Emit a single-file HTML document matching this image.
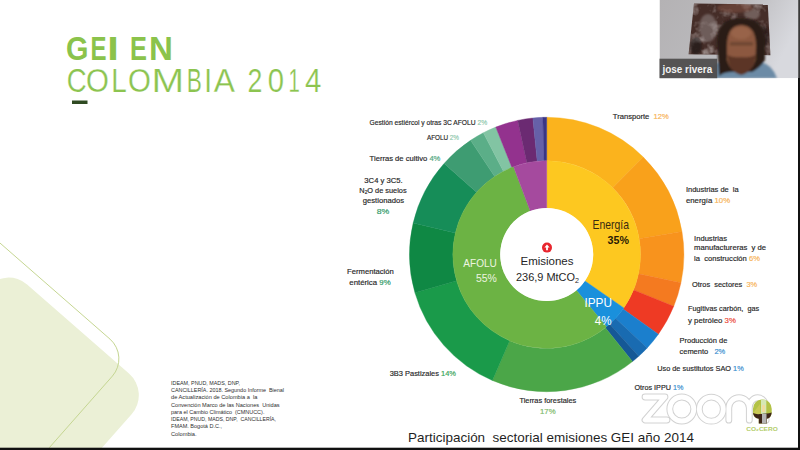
<!DOCTYPE html>
<html><head><meta charset="utf-8"><style>
html,body{margin:0;padding:0;background:#fff;}
body{width:800px;height:450px;overflow:hidden;position:relative;}
svg{position:absolute;left:0;top:0;font-family:"Liberation Sans", sans-serif;}
text{white-space:pre;}
</style></head><body>
<svg width="800" height="450" viewBox="0 0 800 450">
<rect x="0" y="0" width="800" height="450" fill="#ffffff"/>
<!-- decorative bottom-left -->
<path d="M-12.5,287.2 A28,28 0 0 1 27.1,284.6 L129,373.4 A29,29 0 0 1 131.6,414.3 L100,450 L-50,450 L-50,350 Z" fill="#ebf0d6"/>
<path d="M-2,241.3 L110,339.1 A26.3,26.3 0 0 1 112.4,376.1 L49.3,447.7" fill="none" stroke="#c5d692" stroke-width="1"/>
<!-- title -->
<text transform="translate(66.06,60.4) scale(0.884,1)" font-size="32.7" font-weight="bold" fill="#8bc34b" >G</text>
<text transform="translate(90.39,60.4) scale(0.736,1)" font-size="32.7" font-weight="bold" fill="#8bc34b" >E</text>
<text transform="translate(107.21,60.4) scale(1.274,1)" font-size="32.7" font-weight="bold" fill="#8bc34b" >I</text>
<text transform="translate(130.05,60.4) scale(0.777,1)" font-size="32.7" font-weight="bold" fill="#8bc34b" >E</text>
<text transform="translate(149.03,60.4) scale(1.014,1)" font-size="32.7" font-weight="bold" fill="#8bc34b" >N</text>
<text transform="translate(66.70,91.9) scale(0.837,1)" font-size="33" font-weight="normal" fill="#8cc450" stroke="#ffffff" stroke-width="0.25">C</text>
<text transform="translate(86.01,91.9) scale(0.892,1)" font-size="33" font-weight="normal" fill="#8cc450" stroke="#ffffff" stroke-width="0.25">O</text>
<text transform="translate(111.31,91.9) scale(0.845,1)" font-size="33" font-weight="normal" fill="#8cc450" stroke="#ffffff" stroke-width="0.25">L</text>
<text transform="translate(128.01,91.9) scale(0.892,1)" font-size="33" font-weight="normal" fill="#8cc450" stroke="#ffffff" stroke-width="0.25">O</text>
<text transform="translate(151.59,91.9) scale(1.187,1)" font-size="33" font-weight="normal" fill="#8cc450" stroke="#ffffff" stroke-width="0.25">M</text>
<text transform="translate(186.84,91.9) scale(0.686,1)" font-size="33" font-weight="normal" fill="#8cc450" stroke="#ffffff" stroke-width="0.25">B</text>
<text transform="translate(204.33,91.9) scale(0.845,1)" font-size="33" font-weight="normal" fill="#8cc450" stroke="#ffffff" stroke-width="0.25">I</text>
<text transform="translate(213.84,91.9) scale(0.960,1)" font-size="33" font-weight="normal" fill="#8cc450" stroke="#ffffff" stroke-width="0.25">A</text>
<text transform="translate(247.55,91.9) scale(0.812,1)" font-size="33" font-weight="normal" fill="#8cc450" stroke="#ffffff" stroke-width="0.25">2</text>
<text transform="translate(267.86,91.9) scale(0.887,1)" font-size="33" font-weight="normal" fill="#8cc450" stroke="#ffffff" stroke-width="0.25">0</text>
<text transform="translate(288.45,91.9) scale(0.615,1)" font-size="33" font-weight="normal" fill="#8cc450" stroke="#ffffff" stroke-width="0.25">1</text>
<text transform="translate(305.07,91.9) scale(0.893,1)" font-size="33" font-weight="normal" fill="#8cc450" stroke="#ffffff" stroke-width="0.25">4</text>
<rect x="72" y="100.5" width="15.5" height="3.5" fill="#2f4a22"/>
<!-- donut -->
<path d="M546.70,117.30A137.2,137.2 0 0 1 643.21,156.98L612.68,187.83A93.8,93.8 0 0 0 546.70,160.70Z" fill="#fbb31d" stroke="#fbb31d" stroke-width="0.4"/>
<path d="M643.21,156.98A137.2,137.2 0 0 1 681.94,231.38L639.16,238.70A93.8,93.8 0 0 0 612.68,187.83Z" fill="#f9a11b" stroke="#f9a11b" stroke-width="0.4"/>
<path d="M681.94,231.38A137.2,137.2 0 0 1 680.95,282.79L638.48,273.84A93.8,93.8 0 0 0 639.16,238.70Z" fill="#f8931d" stroke="#f8931d" stroke-width="0.4"/>
<path d="M680.95,282.79A137.2,137.2 0 0 1 673.73,306.34L633.55,289.94A93.8,93.8 0 0 0 638.48,273.84Z" fill="#f47a20" stroke="#f47a20" stroke-width="0.4"/>
<path d="M673.73,306.34A137.2,137.2 0 0 1 658.40,334.17L623.06,308.97A93.8,93.8 0 0 0 633.55,289.94Z" fill="#ee3a24" stroke="#ee3a24" stroke-width="0.4"/>
<path d="M658.40,334.17A137.2,137.2 0 0 1 647.20,347.89L615.41,318.35A93.8,93.8 0 0 0 623.06,308.97Z" fill="#1b7fcd" stroke="#1b7fcd" stroke-width="0.4"/>
<path d="M647.20,347.89A137.2,137.2 0 0 1 638.68,356.30L609.59,324.10A93.8,93.8 0 0 0 615.41,318.35Z" fill="#196bb1" stroke="#196bb1" stroke-width="0.4"/>
<path d="M638.68,356.30A137.2,137.2 0 0 1 632.48,361.58L605.35,327.70A93.8,93.8 0 0 0 609.59,324.10Z" fill="#155896" stroke="#155896" stroke-width="0.4"/>
<path d="M632.48,361.58A137.2,137.2 0 0 1 492.43,380.51L509.60,340.65A93.8,93.8 0 0 0 605.35,327.70Z" fill="#4ba648" stroke="#4ba648" stroke-width="0.4"/>
<path d="M492.43,380.51A137.2,137.2 0 0 1 414.95,292.78L456.62,280.67A93.8,93.8 0 0 0 509.60,340.65Z" fill="#1a9a4a" stroke="#1a9a4a" stroke-width="0.4"/>
<path d="M414.95,292.78A137.2,137.2 0 0 1 413.18,222.94L455.42,232.92A93.8,93.8 0 0 0 456.62,280.67Z" fill="#0f8844" stroke="#0f8844" stroke-width="0.4"/>
<path d="M413.18,222.94A137.2,137.2 0 0 1 444.10,163.41L476.56,192.22A93.8,93.8 0 0 0 455.42,232.92Z" fill="#168d58" stroke="#168d58" stroke-width="0.4"/>
<path d="M444.10,163.41A137.2,137.2 0 0 1 470.58,140.36L494.66,176.46A93.8,93.8 0 0 0 476.56,192.22Z" fill="#3e9c72" stroke="#3e9c72" stroke-width="0.4"/>
<path d="M470.58,140.36A137.2,137.2 0 0 1 483.35,132.80L503.39,171.30A93.8,93.8 0 0 0 494.66,176.46Z" fill="#5bae88" stroke="#5bae88" stroke-width="0.4"/>
<path d="M483.35,132.80A137.2,137.2 0 0 1 495.75,127.11L511.87,167.41A93.8,93.8 0 0 0 503.39,171.30Z" fill="#82c4a3" stroke="#82c4a3" stroke-width="0.4"/>
<path d="M495.75,127.11A137.2,137.2 0 0 1 517.71,120.40L526.88,162.82A93.8,93.8 0 0 0 511.87,167.41Z" fill="#93328e" stroke="#93328e" stroke-width="0.4"/>
<path d="M517.71,120.40A137.2,137.2 0 0 1 532.84,118.00L537.22,161.18A93.8,93.8 0 0 0 526.88,162.82Z" fill="#6b2a72" stroke="#6b2a72" stroke-width="0.4"/>
<path d="M532.84,118.00A137.2,137.2 0 0 1 542.87,117.35L544.08,160.74A93.8,93.8 0 0 0 537.22,161.18Z" fill="#6660a8" stroke="#6660a8" stroke-width="0.4"/>
<path d="M542.87,117.35A137.2,137.2 0 0 1 546.70,117.30L546.70,160.70A93.8,93.8 0 0 0 544.08,160.74Z" fill="#3b3585" stroke="#3b3585" stroke-width="0.4"/>
<path d="M546.70,160.70A93.8,93.8 0 0 1 623.82,307.90L584.93,280.97A46.5,46.5 0 0 0 546.70,208.00Z" fill="#fdc820" stroke="#fdc820" stroke-width="0.4"/>
<path d="M623.82,307.90A93.8,93.8 0 0 1 606.49,326.77L576.34,290.33A46.5,46.5 0 0 0 584.93,280.97Z" fill="#1a90dc" stroke="#1a90dc" stroke-width="0.4"/>
<path d="M606.49,326.77A93.8,93.8 0 1 1 513.54,166.76L530.26,211.00A46.5,46.5 0 1 0 576.34,290.33Z" fill="#6cb344" stroke="#6cb344" stroke-width="0.4"/>
<path d="M513.54,166.76A93.8,93.8 0 0 1 546.70,160.70L546.70,208.00A46.5,46.5 0 0 0 530.26,211.00Z" fill="#a54a9e" stroke="#a54a9e" stroke-width="0.4"/>
<circle cx="546.7" cy="254.5" r="46.5" fill="#ffffff"/>
<circle cx="547" cy="247.6" r="5" fill="#e8262e"/>
<path d="M547,244.6 L544.4,247.6 L546.1,247.6 L546.1,250.3 L547.9,250.3 L547.9,247.6 L549.6,247.6 Z" fill="#fff"/>
<text x="547" y="264.5" font-size="11.5" fill="#262626" text-anchor="middle">Emisiones</text>
<text x="516" y="281.3" font-size="11.5" fill="#262626" textLength="63" lengthAdjust="spacingAndGlyphs">236,9 MtCO<tspan font-size="7.5" dy="2">2</tspan></text>
<text x="592.6" y="229.3" font-size="12.2" fill="#3a2a10" textLength="36.4" lengthAdjust="spacingAndGlyphs">Energía</text>
<text x="607.6" y="244.4" font-size="11.5" font-weight="bold" fill="#2a1a05" textLength="21.4" lengthAdjust="spacingAndGlyphs">35%</text>
<text x="584.4" y="306.5" font-size="12.6" fill="#ffffff" textLength="27.6" lengthAdjust="spacingAndGlyphs">IPPU</text>
<text x="594.8" y="324.5" font-size="12.6" fill="#ffffff" textLength="16.8" lengthAdjust="spacingAndGlyphs">4%</text>
<text x="463.3" y="267" font-size="10.8" fill="#eef5e0" textLength="33.6" lengthAdjust="spacingAndGlyphs">AFOLU</text>
<text x="476" y="282.4" font-size="10.8" fill="#eef5e0" textLength="20.9" lengthAdjust="spacingAndGlyphs">55%</text>
<!-- labels -->
<text x="369.6" y="125.4" font-size="7.8" fill="#282828" stroke="#282828" stroke-width="0.18" text-anchor="start" textLength="117.6" lengthAdjust="spacingAndGlyphs">Gestión estiércol y otras 3C AFOLU <tspan fill="#8fc9ad" stroke="#8fc9ad">2%</tspan></text>
<text x="427" y="139.5" font-size="7.8" fill="#282828" stroke="#282828" stroke-width="0.18" text-anchor="start" textLength="32" lengthAdjust="spacingAndGlyphs">AFOLU <tspan fill="#8fc9ad" stroke="#8fc9ad">2%</tspan></text>
<text x="369.6" y="160.7" font-size="7.8" fill="#282828" stroke="#282828" stroke-width="0.18" text-anchor="start" textLength="70.8" lengthAdjust="spacingAndGlyphs">Tierras de cultivo <tspan fill="#4fa67e" stroke="#4fa67e">4%</tspan></text>
<text x="383.5" y="183" font-size="7.8" fill="#282828" stroke="#282828" stroke-width="0.18" text-anchor="middle" textLength="38.3" lengthAdjust="spacingAndGlyphs">3C4 y 3C5.</text>
<text x="383" y="192.8" font-size="7.8" fill="#282828" stroke="#282828" stroke-width="0.18" text-anchor="middle" textLength="47.3" lengthAdjust="spacingAndGlyphs">N<tspan font-size="5" dy="1.5">2</tspan><tspan dy="-1.5">O de suelos</tspan></text>
<text x="383.4" y="203.4" font-size="7.8" fill="#282828" stroke="#282828" stroke-width="0.18" text-anchor="middle" textLength="41.3" lengthAdjust="spacingAndGlyphs">gestionados</text>
<text x="383" y="213.6" font-size="7.8" fill="#2f9a68" stroke="#2f9a68" stroke-width="0.18" text-anchor="middle" textLength="12.5" lengthAdjust="spacingAndGlyphs">8%</text>
<text x="347.1" y="274.3" font-size="7.8" fill="#282828" stroke="#282828" stroke-width="0.18" text-anchor="start" textLength="46.7" lengthAdjust="spacingAndGlyphs">Fermentación</text>
<text x="349.3" y="284.8" font-size="7.8" fill="#282828" stroke="#282828" stroke-width="0.18" text-anchor="start" textLength="41.3" lengthAdjust="spacingAndGlyphs">entérica <tspan fill="#2f9a68" stroke="#2f9a68">9%</tspan></text>
<text x="389.7" y="376" font-size="7.8" fill="#282828" stroke="#282828" stroke-width="0.18" text-anchor="start" textLength="66.3" lengthAdjust="spacingAndGlyphs">3B3 Pastizales <tspan fill="#3aa55a" stroke="#3aa55a">14%</tspan></text>
<text x="519.4" y="402.5" font-size="7.8" fill="#282828" stroke="#282828" stroke-width="0.18" text-anchor="start" textLength="56.9" lengthAdjust="spacingAndGlyphs">Tierras forestales</text>
<text x="547.8" y="413.8" font-size="7.8" fill="#7dba6a" stroke="#7dba6a" stroke-width="0.18" text-anchor="middle" textLength="15.6" lengthAdjust="spacingAndGlyphs">17%</text>
<text x="612.8" y="119.2" font-size="7.8" fill="#282828" stroke="#282828" stroke-width="0.18" text-anchor="start" textLength="56" lengthAdjust="spacingAndGlyphs">Transporte  <tspan fill="#f7b357" stroke="#f7b357">12%</tspan></text>
<text x="685.9" y="191.5" font-size="7.8" fill="#282828" stroke="#282828" stroke-width="0.18" text-anchor="start" textLength="52.8" lengthAdjust="spacingAndGlyphs">Industrias de  la</text>
<text x="685.9" y="202.7" font-size="7.8" fill="#282828" stroke="#282828" stroke-width="0.18" text-anchor="start" textLength="44.2" lengthAdjust="spacingAndGlyphs">energía <tspan fill="#f7b357" stroke="#f7b357">10%</tspan></text>
<text x="694.1" y="240.8" font-size="7.8" fill="#282828" stroke="#282828" stroke-width="0.18" text-anchor="start" textLength="32.9" lengthAdjust="spacingAndGlyphs">Industrias</text>
<text x="694.1" y="250.1" font-size="7.8" fill="#282828" stroke="#282828" stroke-width="0.18" text-anchor="start" textLength="71.9" lengthAdjust="spacingAndGlyphs">manufactureras  y de</text>
<text x="694.1" y="260.5" font-size="7.8" fill="#282828" stroke="#282828" stroke-width="0.18" text-anchor="start" textLength="65.8" lengthAdjust="spacingAndGlyphs">la  construcción <tspan fill="#f7b357" stroke="#f7b357">6%</tspan></text>
<text x="692" y="286.6" font-size="7.8" fill="#282828" stroke="#282828" stroke-width="0.18" text-anchor="start" textLength="65.2" lengthAdjust="spacingAndGlyphs">Otros  sectores  <tspan fill="#f7b357" stroke="#f7b357">3%</tspan></text>
<text x="688" y="311.4" font-size="7.8" fill="#282828" stroke="#282828" stroke-width="0.18" text-anchor="start" textLength="71.1" lengthAdjust="spacingAndGlyphs">Fugitivas carbón,  gas</text>
<text x="688" y="322.6" font-size="7.8" fill="#282828" stroke="#282828" stroke-width="0.18" text-anchor="start" textLength="47.9" lengthAdjust="spacingAndGlyphs">y petróleo <tspan fill="#ec4a3a" stroke="#ec4a3a">3%</tspan></text>
<text x="679.5" y="343.4" font-size="7.8" fill="#282828" stroke="#282828" stroke-width="0.18" text-anchor="start" textLength="47.8" lengthAdjust="spacingAndGlyphs">Producción de</text>
<text x="679.5" y="354" font-size="7.8" fill="#282828" stroke="#282828" stroke-width="0.18" text-anchor="start" textLength="45.7" lengthAdjust="spacingAndGlyphs">cemento   <tspan fill="#3a8fcf" stroke="#3a8fcf">2%</tspan></text>
<text x="657.2" y="371.4" font-size="7.8" fill="#282828" stroke="#282828" stroke-width="0.18" text-anchor="start" textLength="86.5" lengthAdjust="spacingAndGlyphs">Uso de sustitutos SAO <tspan fill="#3a8fcf" stroke="#3a8fcf">1%</tspan></text>
<text x="634.5" y="389.7" font-size="7.8" fill="#282828" stroke="#282828" stroke-width="0.18" text-anchor="start" textLength="48.8" lengthAdjust="spacingAndGlyphs">Otros IPPU <tspan fill="#3a8fcf" stroke="#3a8fcf">1%</tspan></text>
<!-- reference -->
<text x="171" y="385" font-size="6.0" fill="#2e2e2e" textLength="69" lengthAdjust="spacingAndGlyphs">IDEAM, PNUD, MADS, DNP,</text>
<text x="171" y="391.6" font-size="6.0" fill="#2e2e2e" textLength="113" lengthAdjust="spacingAndGlyphs">CANCILLERÍA. 2018. Segundo Informe  Bienal</text>
<text x="171" y="399" font-size="6.0" fill="#2e2e2e" textLength="86.4" lengthAdjust="spacingAndGlyphs">de Actualización de Colombia a  la</text>
<text x="171" y="406.6" font-size="6.0" fill="#2e2e2e" textLength="108.6" lengthAdjust="spacingAndGlyphs">Convención Marco de las Naciones  Unidas</text>
<text x="171" y="414" font-size="6.0" fill="#2e2e2e" textLength="93.4" lengthAdjust="spacingAndGlyphs">para el Cambio Climático  (CMNUCC).</text>
<text x="171" y="421" font-size="6.0" fill="#2e2e2e" textLength="105" lengthAdjust="spacingAndGlyphs">IDEAM, PNUD, MADS, DNP,  CANCILLERÍA,</text>
<text x="171" y="428" font-size="6.0" fill="#2e2e2e" textLength="51" lengthAdjust="spacingAndGlyphs">FMAM. Bogotá D.C.,</text>
<text x="171" y="436" font-size="6.0" fill="#2e2e2e" textLength="25.6" lengthAdjust="spacingAndGlyphs">Colombia.</text>
<!-- caption -->
<text x="408" y="441.6" font-size="12.8" fill="#1f1f1f" textLength="286" lengthAdjust="spacingAndGlyphs">Participación  sectorial emisiones GEI año 2014</text>
<!-- zoom watermark -->
<g fill="none" stroke-linejoin="round" stroke-linecap="round"><g stroke="#d2d2d2" stroke-width="6.8"><path d="M645,397 L665,397 L645,420 L667,420"/>
<circle cx="681.8" cy="409" r="12"/>
<circle cx="711.3" cy="409.2" r="12"/>
<path d="M728.8,420.2 L728.8,408 A10.25,10.25 0 0 1 749.3,408 L749.3,420.2 M749.3,408 A8.4,10.25 0 0 1 766.1,408 L766.1,420.2"/></g><g stroke="#ffffff" stroke-width="4.8"><path d="M645,397 L665,397 L645,420 L667,420"/>
<circle cx="681.8" cy="409" r="12"/>
<circle cx="711.3" cy="409.2" r="12"/>
<path d="M728.8,420.2 L728.8,408 A10.25,10.25 0 0 1 749.3,408 L749.3,420.2 M749.3,408 A8.4,10.25 0 0 1 766.1,408 L766.1,420.2"/></g></g>
<!-- logo -->
<g>
<path d="M753,410 A9.4,9.6 0 1 1 771.7,410 L771.7,413 Q771,418 766.8,418.5 L766.8,423.6 L758.8,423.6 L758.8,418.5 Q753.5,418 753,413 Z" fill="#b3c246"/>
<path d="M753.2,413 L760,404 L761,418 Q755,418 753.2,413Z" fill="#c9c955"/>
<path d="M761,399.2 Q764,399 766.3,400.5 L766.3,414 L761,414 Z" fill="#d6e8b4"/>
<path d="M762,405 L765,405 L765,412 L762,412Z" fill="#f0dca0"/>
<path d="M753,413 Q756,414.5 760,414 L766.8,413.5 Q769,413.5 771.7,412.5 Q771,418.5 766.8,418.8 L766.8,423.6 L758.8,423.6 L758.8,418.8 Q753.8,418 753,413Z" fill="#3e2618"/>
<rect x="762" y="414" width="4.5" height="9.6" fill="#b4b4b4"/>
</g>
<text x="762" y="431.2" font-size="5" font-weight="bold" fill="#b3cd6a" text-anchor="middle" textLength="31.6" lengthAdjust="spacingAndGlyphs">CO₂CERO</text>
<!-- video -->
<defs><clipPath id="vc"><rect x="659.5" y="0" width="138.7" height="78.2"/></clipPath>
<clipPath id="pc"><path d="M694,3.6 L767.8,4.5 L770.4,55.2 L688.6,54.3 Z"/></clipPath>
<filter id="bl" x="-20%" y="-20%" width="140%" height="140%"><feGaussianBlur stdDeviation="1.3"/></filter>
<filter id="bl2" x="-20%" y="-20%" width="140%" height="140%"><feGaussianBlur stdDeviation="0.5"/></filter>
<filter id="tex" x="0" y="0" width="100%" height="100%"><feTurbulence type="fractalNoise" baseFrequency="0.09" numOctaves="3" seed="3"/><feColorMatrix type="matrix" values="0 0 0 0 0.52  0 0 0 0 0.45  0 0 0 0 0.44  2.0 0 0 0 -0.95"/></filter>
<linearGradient id="wall" x1="0" y1="0" x2="1" y2="0.3"><stop offset="0" stop-color="#b4b2b4"/><stop offset="0.55" stop-color="#bbbabd"/><stop offset="1" stop-color="#d8d9de"/></linearGradient></defs>
<g clip-path="url(#vc)">
<rect x="659.5" y="0" width="140.5" height="78.2" fill="url(#wall)"/>
<g clip-path="url(#pc)">
<rect x="685" y="0" width="90" height="60" fill="#452d28"/>
<rect x="685" y="0" width="90" height="60" filter="url(#tex)"/>
<g filter="url(#bl)" opacity="0.6">
<ellipse cx="708" cy="28" rx="9" ry="14" fill="#8a7d7c"/>
<ellipse cx="752" cy="14" rx="8" ry="6" fill="#8f7f7c"/>
<ellipse cx="735" cy="8" rx="18" ry="5" fill="#7a4e40"/>
<ellipse cx="696" cy="46" rx="6" ry="9" fill="#1e1614"/>
<ellipse cx="764" cy="36" rx="5" ry="10" fill="#221816"/>
</g>
</g>
<g filter="url(#bl)">
<path d="M706,78.2 Q708,66 720,62 L760,62 Q772,64 777,78.2 Z" fill="#6c8ba6"/>
<path d="M719,76 L717,38 Q718,18 741,18 Q764,18 765,38 L765,60 Q760,68 752,72 L732,72 Q724,72 719,76Z" fill="#2b1d19"/>
<path d="M727,46 Q727,25.5 741.3,25 Q756,25.5 756,46 L755.5,60 Q752,72 741.3,74 Q730,72 727,60Z" fill="#8c593f"/>
<path d="M727.5,55 Q733,58 741.3,57 Q750,58 755.5,55 Q754,72 741.3,75 Q728.5,72 727.5,55Z" fill="#5c3626"/>
<ellipse cx="741" cy="33" rx="10" ry="6" fill="#9c6a4e" opacity="0.7"/>
<rect x="730" y="42" width="23" height="3.5" fill="#5e3a2c" opacity="0.6"/>
</g>
</g>
<rect x="659.5" y="58.7" width="57.7" height="19.5" fill="#4d4b4b" opacity="0.93"/>
<text x="662.4" y="72.9" font-size="10.5" font-weight="bold" fill="#f2f2f2" textLength="49.8" lengthAdjust="spacingAndGlyphs">jose rivera</text>
<!-- black edges -->
<rect x="798" y="78" width="2" height="372" fill="#111"/><rect x="798.2" y="0" width="1.8" height="78" fill="#3a3a3a"/>
<rect x="0" y="447.7" width="800" height="2.3" fill="#111"/>
</svg>
</body></html>
